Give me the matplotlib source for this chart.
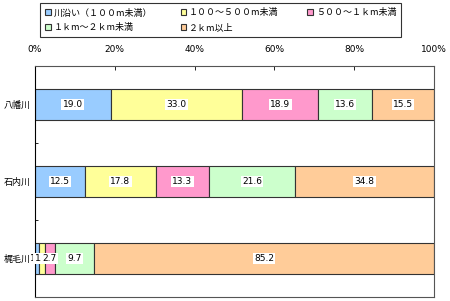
import matplotlib
matplotlib.use("Agg")
import matplotlib.pyplot as plt
import numpy as np

plt.rcParams["font.family"] = ["Noto Sans CJK JP", "DejaVu Sans"]

rivers = ["八幡川", "石内川", "梶毛川"]
series = ["川沿い（１００m未満）", "１００～５００m未満", "５００～１ｋm未満",
          "１ｋm～２ｋm未満", "２ｋm以上"]
colors = ["#99CCFF", "#FFFF99", "#FF99CC", "#CCFFCC", "#FFCC99"]
values = np.array([
    [19.0, 33.0, 18.9, 13.6, 15.5],
    [12.5, 17.8, 13.3, 21.6, 34.8],
    [1.1, 1.3, 2.7, 9.7, 85.2],
])
labels = [
    ["19.0", "33.0", "18.9", "13.6", "15.5"],
    ["12.5", "17.8", "13.3", "21.6", "34.8"],
    ["1.1", "1.3", "2.7", "9.7", "85.2"],
]

fig = plt.figure(figsize=(4.5, 3.01), dpi=100)
ax = fig.add_axes([35 / 450, 4 / 301, 399 / 450, 231 / 301])

y = np.arange(len(rivers))
left = np.zeros(len(rivers))
handles = []
for j, name in enumerate(series):
    h = ax.barh(y, values[:, j], left=left, height=0.4, color=colors[j],
                edgecolor="#333333", linewidth=0.8, label=name)
    handles.append(h)
    for i in range(len(rivers)):
        cx = left[i] + values[i, j] / 2
        ax.text(cx, y[i], labels[i][j], ha="center", va="center", fontsize=6.5,
                family=["DejaVu Sans"],
                bbox=dict(facecolor="white", edgecolor="none", pad=1.0))
    left += values[:, j]

ax.set_xlim(0, 100)
ax.set_ylim(2.5, -0.5)
ax.xaxis.tick_top()
ax.set_xticks(np.arange(0, 101, 20))
ax.set_xticklabels([f"{v}%" for v in range(0, 101, 20)], fontsize=6.5,
                   family=["DejaVu Sans"])
ax.set_yticks(y)
ax.set_yticklabels(rivers, fontsize=6.5)
ax.tick_params(axis="x", direction="in", length=3, pad=9, width=0.6)
ax.tick_params(axis="y", length=0, pad=3)
ax.set_yticks([0.5, 1.5], minor=True)
ax.tick_params(axis="y", which="minor", direction="in", length=2)
for s in ["top", "right", "bottom"]:
    ax.spines[s].set_color("#555555")
ax.spines["left"].set_color("black")

# row-wise legend order: matplotlib fills columns first
order = [0, 3, 1, 4, 2]
leg = fig.legend(handles=[handles[k] for k in order],
                 labels=[series[k] for k in order], ncol=3, loc="upper left",
                 bbox_to_anchor=(40 / 450, 1 - 3 / 301), fontsize=6.5,
                 frameon=True, fancybox=False, edgecolor="black",
                 handlelength=0.6, handleheight=0.6, handletextpad=0.3,
                 columnspacing=3.2, borderpad=0.6, labelspacing=0.6,
                 borderaxespad=0)
leg.get_frame().set_linewidth(0.8)

fig.savefig("out.png", dpi=100)
